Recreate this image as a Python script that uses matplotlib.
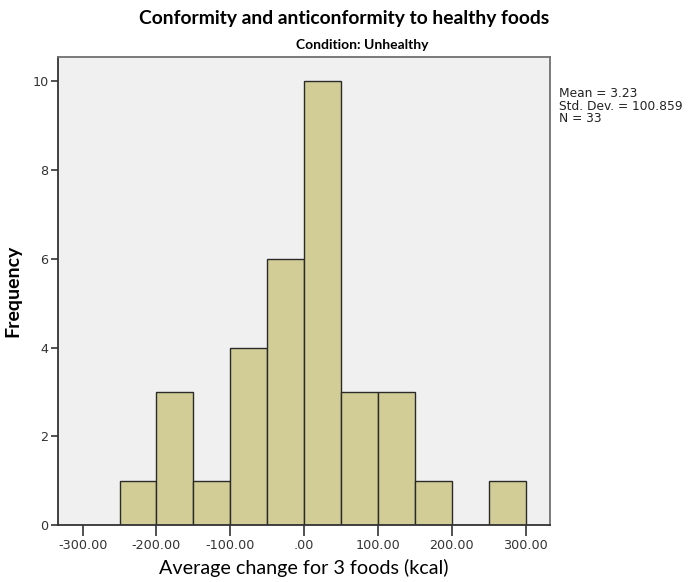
import matplotlib
matplotlib.use('Agg')
import matplotlib.pyplot as plt

# histogram of average kcal change, unhealthy condition
bin_edges = [-250, -200, -150, -100, -50, 0, 50, 100, 150, 200, 250, 300]
counts = [1, 3, 1, 4, 6, 10, 3, 3, 1, 0, 1]
x_ticks = [-300, -200, -100, 0, 100, 200, 300]
x_tick_labels = ['-300.00', '-200.00', '-100.00', '.00', '100.00', '200.00', '300.00']
y_ticks = [0, 2, 4, 6, 8, 10]
stats_lines = ['Mean = 3.23', 'Std. Dev. = 100.859', 'N = 33']

plt.rcParams['font.family'] = ['Lato', 'DejaVu Sans']

fig = plt.figure(figsize=(6.89, 5.82), dpi=100)
ax = fig.add_axes([0.0846, 0.0979, 0.7137, 0.8037])
ax.set_facecolor('#f0f0f0')

widths = [b - a for a, b in zip(bin_edges[:-1], bin_edges[1:])]
ax.bar(bin_edges[:-1], counts, width=widths, align='edge',
       color='#d2cd96', edgecolor='#2a2a2a', linewidth=1.0)

ax.set_xlim(-333, 333)
ax.set_ylim(0, 10.54)

ax.set_xticks(x_ticks)
ax.set_xticklabels(x_tick_labels, fontfamily='DejaVu Sans', fontsize=9.2, color='#333333')
ax.set_yticks(y_ticks)
ax.set_yticklabels([str(v) for v in y_ticks], fontfamily='DejaVu Sans', fontsize=9.2, color='#333333')
ax.tick_params(axis='x', length=8, width=1.2, color='#333333', pad=2)
ax.tick_params(axis='y', length=5, width=1.2, color='#333333', pad=2)

for side in ['top', 'right']:
    ax.spines[side].set_color('#707070')
    ax.spines[side].set_linewidth(1.3)
for side in ['left', 'bottom']:
    ax.spines[side].set_color('#333333')
    ax.spines[side].set_linewidth(1.3)

ax.set_xlabel('Average change for 3 foods (kcal)', fontsize=14.2, labelpad=5)
ax.set_ylabel('Frequency', fontsize=14, fontweight='bold', labelpad=8)

fig.text(0.5, 0.969, 'Conformity and anticonformity to healthy foods',
         ha='center', va='center', fontsize=13.9, fontweight='bold')
fig.text(0.526, 0.922, 'Condition: Unhealthy',
         ha='center', va='center', fontsize=10, fontweight='bold')

fig.text(0.812, 0.850, '\n'.join(stats_lines), ha='left', va='top',
         fontfamily='DejaVu Sans', fontsize=8.8, linespacing=0.92, color='#222222')

fig.savefig('out.png', dpi=100, facecolor='white')
